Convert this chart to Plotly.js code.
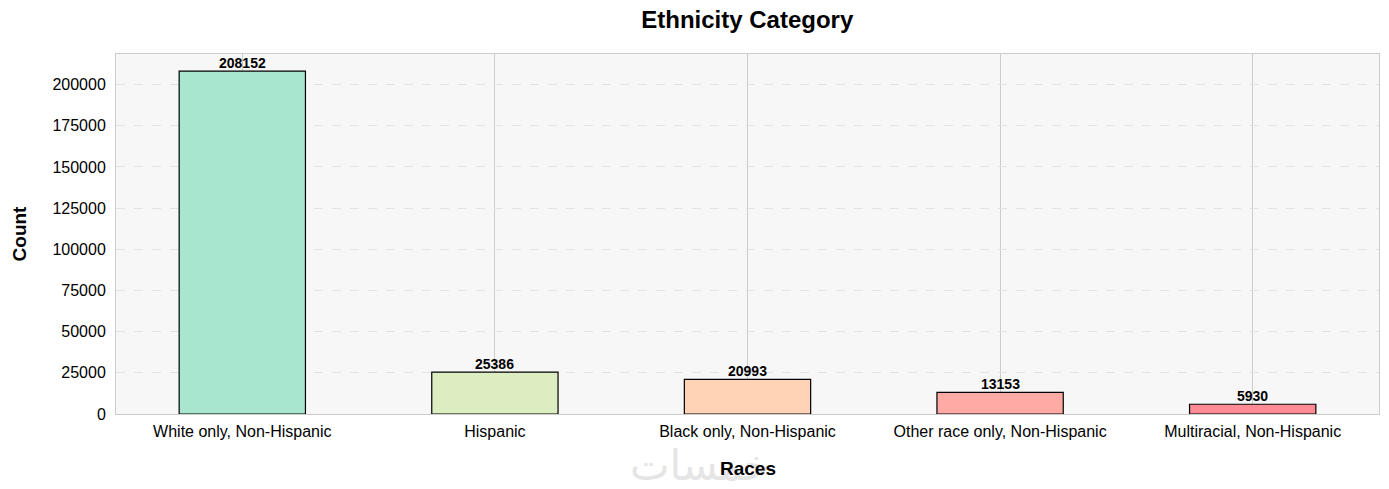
<!DOCTYPE html>
<html>
<head>
<meta charset="utf-8">
<script src="https://cdn.plot.ly/plotly-3.0.1.min.js"></script>
<style>html,body{margin:0;padding:0;background:#fff;}#chart{width:1389px;height:489px;}</style>
</head>
<body>
<div id="chart"></div>
<script>
const categories = ["White only, Non-Hispanic", "Hispanic", "Black only, Non-Hispanic", "Other race only, Non-Hispanic", "Multiracial, Non-Hispanic"];
const counts = [208152, 25386, 20993, 13153, 5930];
const barColors = ["#a8e6cf", "#dcedc1", "#ffd3b6", "#ffaaa5", "#ff8b94"];
const yTicks = [0, 25000, 50000, 75000, 100000, 125000, 150000, 175000, 200000];

const trace = {
  type: "bar",
  x: categories,
  y: counts,
  width: 0.5,
  marker: {color: barColors, line: {color: "#000000", width: 1.2}},
  hoverinfo: "x+y"
};

const barLabels = categories.map((c, i) => ({
  x: c, y: counts[i], xref: "x", yref: "y",
  text: "<b>" + counts[i] + "</b>",
  showarrow: false, xanchor: "center", yanchor: "bottom", yshift: -2,
  font: {family: "Liberation Sans Narrow, Liberation Sans, Arial", size: 14, color: "#000"}
}));

const layout = {
  width: 1389, height: 489,
  margin: {l: 116, r: 10, t: 54, b: 75},
  paper_bgcolor: "#ffffff",
  plot_bgcolor: "#f7f7f7",
  showlegend: false,
  font: {family: "Liberation Sans, Arial, sans-serif", color: "#000"},
  title: {text: "<b>Ethnicity Category</b>", x: 0.538, xanchor: "center", y: 0.96, yanchor: "middle", font: {size: 24, color: "#000"}},
  xaxis: {
    type: "category",
    range: [-0.5, 4.5],
    showgrid: true, gridcolor: "#cccccc", gridwidth: 1,
    showline: true, linecolor: "#cccccc", linewidth: 1, mirror: true,
    ticks: "", tickfont: {size: 16}, ticklabelstandoff: 3,
    zeroline: false
  },
  yaxis: {
    range: [0, 218560],
    tickvals: yTicks,
    ticktext: yTicks.map(String),
    showgrid: true, gridcolor: "#e3e3e3", gridwidth: 1, griddash: "dash",
    showline: true, linecolor: "#cccccc", linewidth: 1, mirror: true,
    ticks: "", tickfont: {size: 16}, ticklabelstandoff: 6,
    title: {text: "<b>Count</b>", font: {size: 19}, standoff: 20},
    zeroline: false
  },
  annotations: [{
    text: "خمسات",
    xref: "paper", yref: "paper",
    x: 0.462, y: -0.143, xanchor: "center", yanchor: "middle",
    showarrow: false,
    font: {family: "DejaVu Sans, Noto Sans", size: 42, color: "#e5e5e5"}
  }, {
    text: "<b>Races</b>",
    xref: "paper", yref: "paper",
    x: 0.5, y: -0.152, xanchor: "center", yanchor: "middle",
    showarrow: false,
    font: {size: 19, color: "#000"}
  }].concat(barLabels)
};

Plotly.newPlot("chart", [trace], layout, {displayModeBar: false, staticPlot: true});
</script>
</body>
</html>
